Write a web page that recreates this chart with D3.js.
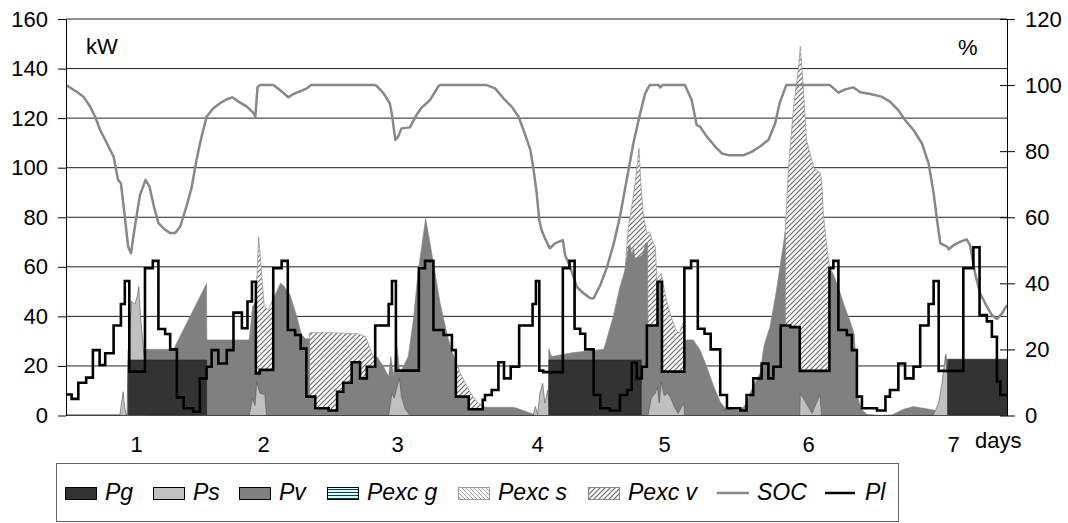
<!DOCTYPE html>
<html>
<head>
<meta charset="utf-8">
<script src="https://cdn.jsdelivr.net/npm/d3@7"></script>
<style>
  html, body { margin: 0; padding: 0; background: #fff; }
  svg { display: block; font-family: "Liberation Sans", Arial, Helvetica, sans-serif; }
</style>
</head>
<body>
<svg id="chart" width="1068" height="523"></svg>
<script>
// ---------------- DATA (time in hours, 0..168) ----------------
const dayLabels = ["1", "2", "3", "4", "5", "6", "7"];
const dayTicks = [12.5, 35.2, 59.1, 84.1, 106.8, 132.5, 158.4];
const kwTicks = [0, 20, 40, 60, 80, 100, 120, 140, 160];
const socTicks = [0, 20, 40, 60, 80, 100, 120];
const seriesNames = ["Pg", "Ps", "Pv", "Pexc g", "Pexc s", "Pexc v", "SOC", "Pl"];

const pg = [[0,0],[11.1,0],[11.1,22.4],[25.1,22.4],[25.1,0],[86.2,0],[86.2,22.4],[102.7,22.4],[102.7,0],
  [157.4,0],[157.4,22.7],[168,22.7]];

const ps = [[0,0],[9.6,0],[10.2,9.6],[10.5,3],[10.8,0],[10.9,0],[11.1,25],[11.7,46],[12.3,45],[12.7,48],[13.0,52],
  [13.3,40],[13.8,28],[14.1,20],[14.3,0],[32.7,0],[33.3,6.9],[33.75,4],[34.05,13.7],[34.6,9],[35.5,8.5],[35.8,0],
  [57.6,0],[58.2,9],[58.6,7],[59.5,15],[59.9,7.6],[60.5,2.9],[61.4,0],[83.4,0],[83.8,3.6],[84.2,0.5],[84.6,9],
  [85.1,13],[85.5,5],[86.0,10.3],[86.3,0],[103.9,0],[104.5,7],[105.2,9],[105.6,11.5],[105.9,5],[106.3,13.5],
  [106.8,8],[107.4,9],[108.0,7],[108.6,3.5],[109.3,0.8],[109.9,3.5],[110.3,5],[110.45,0],[131.0,0],[131.1,9],
  [133.2,0.9],[134.6,8.3],[134.9,0],[154.8,0],[155.8,5],[156.4,13],[157.0,24],[157.3,17],[157.5,20],[157.6,0],[168,0]];

const pv = [[0,0.4],[11.0,0.4],[11.1,26.7],[19.2,26.7],[25.1,53.3],[25.15,30.5],[32.7,30.5],[33.3,44],[33.9,46],
  [33.9,17],[34.6,17],[34.6,18.4],[37.0,18.4],[37.0,47],[38.3,53.5],[39.0,52],[40.0,48.6],[41.2,40],[42.0,33],
  [42.7,31],[43.45,31],[43.45,7.6],[44.5,7.6],[44.5,2.9],[46.9,2.9],[46.9,2],[48.4,2],[48.4,9.6],[49.5,9.6],
  [49.5,13.2],[51,13.2],[51,21.5],[52.5,21.5],[52.5,15],[53.7,15],[53.7,19.7],[55.2,19.7],[55.2,22.4],[55.5,23.8],
  [56.7,19.7],[57.6,15.7],[58.0,23.8],[58.5,15.7],[59.0,29.8],[59.6,17],[60.2,19.7],[61.1,23.8],[62.0,38.5],
  [62.9,58.7],[63.5,68.1],[64.2,79.6],[65.0,69.5],[65.9,57.4],[66.8,45.3],[68.0,33.2],[68.9,25.8],[69.6,22],
  [69.6,7.6],[71.9,7.6],[71.9,2.5],[74.4,2.5],[74.4,3.6],[75.1,3.3],[79.9,3.3],[80.5,2.9],[83.4,0.6],[86.1,0.3],
  [86.2,27],[86.7,23.8],[90.6,25.4],[96.0,26.7],[96.5,30.5],[97.7,40],[98.9,52],[99.8,58.7],[100.4,68],[100.7,68.8],
  [101.0,64.8],[101.3,67.5],[101.6,63.4],[102.2,64],[102.9,64.8],[103.5,69.5],[103.85,70],[103.9,36],[105.6,36],
  [105.6,54],[106.4,54],[106.4,17.7],[110.4,17.7],[110.45,30.5],[112.0,30.5],[113.2,26.4],[114.4,19.7],[115.6,12],
  [116.8,5.5],[117.7,2.9],[120.4,2],[121.5,4.9],[122.1,9],[123.9,17],[124.6,28],[125.7,36],[126.8,50],[127.6,62],
  [128.4,74],[128.4,36.3],[131,36.3],[131,18],[136.3,18],[136.3,60],[137.0,57],[138.0,51],[139.0,44],[140.0,38],
  [140.7,33],[141.1,20],[141.3,8],[142.0,2.5],[143.0,0.5],[145.5,0],[147.5,0.3],[149.5,2.5],[151.3,3.6],[153.1,2.9],
  [154.9,2.2],[155.8,1.5],[156.5,8],[157.1,25],[157.4,20],[157.5,0],[168,0]];

const pexcG = [[0,0],[168,0]];
const pexcS = [[0,0],[168,0]];

const pexcV = [[0,0],[33.9,0],[33.9,46],[34.4,72.2],[35.0,55],[35.4,44],[36.1,42.6],[37.0,47],[37.0,0],
  [43.45,0],[43.45,33.5],[48.6,33.3],[52.2,32.9],[53.5,31.8],[54.6,25.1],[55.2,22.4],[55.2,0],
  [69.6,0],[69.6,22],[70.4,17],[71.9,10.3],[73.3,5.6],[74.4,3.6],[74.4,0],
  [99.8,0],[99.8,58.7],[100.4,76],[101.0,84.3],[101.6,93.7],[102.3,107.8],[102.6,95],[103.1,80.2],[103.7,73.5],
  [104.2,74.2],[104.6,70.8],[105.2,68.1],[105.5,54.7],[105.6,55.5],[106.3,57.4],[106.6,53.3],[107.2,46.6],
  [108.0,40],[108.9,34.5],[109.5,33.2],[110.1,37.2],[110.4,38],[110.4,0],
  [128.4,0],[128.4,74],[129.0,100.4],[129.9,124.6],[130.8,140.8],[131.1,149],[131.7,130],[132.2,111.2],
  [133.5,100],[134.6,98],[134.9,95],[135.2,82],[135.5,75],[136.1,63],[136.3,60],[136.3,0],[168,0]];

const soc = [[0,100],[1.9,98],[3.1,96.5],[4.3,93.5],[5.2,90.4],[6.1,86.4],[7.3,82.4],[8.5,78.3],[9.3,71.3],[9.8,70.3],
  [10.5,60.2],[11.1,51.1],[11.6,49.1],[12.3,57.2],[13.2,66.7],[14.2,71.3],[14.9,69.3],[15.7,63.2],[16.5,58.2],
  [17.7,56.2],[18.6,55.2],[19.5,55.2],[20.4,57.2],[21.5,63.2],[22.4,68.8],[23.3,77.3],[24.2,84.4],[25.1,90.4],
  [26.3,93],[27.5,94.5],[28.7,95.7],[29.7,96.3],[30.8,95],[32.3,93.5],[33.5,91.5],[33.8,90.4],[34.2,99.4],[34.6,100],
  [37.0,100],[38.2,98.5],[39.7,96.3],[40.6,97.3],[42.1,98.3],[43.0,99],[43.7,100],[55.2,100],[55.5,99.7],[56.7,97.5],
  [57.8,94.5],[58.2,91],[58.8,83.4],[59.3,84.4],[59.9,86.9],[61.4,87.2],[62.6,91],[63.5,93.2],[65.0,95.5],[66.5,99.7],
  [66.8,100],[75.1,100],[76.6,99],[78.1,96],[79.6,93.4],[80.8,90.4],[81.9,85.4],[82.9,80.4],[83.4,75.3],[84.0,67.8],
  [84.5,59.1],[84.9,56.2],[85.5,53.6],[86.4,50.6],[87.3,52.1],[88.7,53.1],[89.1,48.6],[90.0,45],[91.2,38.9],[92.4,37],
  [93.6,35.5],[94.2,35.5],[95.4,39.5],[96.6,45],[97.8,52.1],[98.9,60.2],[100.1,71.3],[101.3,82.4],[102.5,91.4],
  [103.4,97.5],[104.2,100],[105.8,100],[106.1,99.3],[106.5,100],[110.5,100],[111.7,95.5],[112.6,87.9],[113.2,87.4],
  [114.4,84.4],[115.9,81.4],[117.1,79.3],[118.3,78.8],[121.0,78.8],[122.4,79.8],[123.9,81.4],[125.4,83.4],[126.6,88.4],
  [127.4,94.5],[128.6,100],[136.4,100],[137.9,97.7],[139.1,98.7],[140.6,99.3],[141.8,97.8],[143.6,97.3],[145.6,96.5],
  [147.1,95],[148.6,92.4],[149.8,89.4],[151.3,86.4],[152.8,82.4],[154.0,76.3],[154.9,67.3],[155.5,59.2],[156.1,52.1],
  [157.3,51.1],[157.6,50.3],[158.5,51.6],[159.7,52.6],[160.8,53.3],[161.4,51.6],[162.3,43],[163.2,37],[164.4,33],
  [165.3,30.4],[166.2,29.2],[167.1,30.9],[168,33.4]];

const pl = [[0,8.5],[1.0,6.7],[2.2,13.2],[3.6,15.3],[4.8,26.4],[6.0,20.4],[7.0,25.1],[8.5,36.3],[9.8,45],[10.5,54.3],
  [11.3,17.7],[14.1,59.4],[15.5,62.4],[16.5,34.9],[17.7,32.9],[18.6,26.7],[19.8,7.3],[21.0,2.9],[22.7,1.5],[23.9,15],
  [25.1,19.7],[26.0,26.4],[27.2,21],[28.7,26.4],[29.9,41.5],[31.4,35.2],[32.4,46],[33.2,54],[33.9,17],[34.6,18.4],
  [37.0,59.4],[38.5,62.4],[39.6,34.5],[40.9,32.5],[41.9,27],[42.9,7.6],[44.5,2.9],[46.9,2],[48.4,9.6],[49.5,13.2],
  [51.0,21.5],[52.5,15],[53.7,19.7],[55.2,36.3],[57.6,45],[58.2,54.3],[58.9,18.1],[63.0,59.4],[64.1,62.4],[65.6,34.5],
  [67.4,32.5],[68.9,26.4],[69.6,7.6],[71.9,2.5],[74.4,6.3],[74.8,8.3],[76.0,10.3],[77.2,21.5],[78.2,15],[79.4,19.7],
  [80.9,36.3],[83.3,45],[83.9,54.3],[84.5,18.1],[85.2,17.5],[88.7,59.4],[89.9,62.4],[90.8,35],[91.8,33],[92.7,26.7],
  [94.2,8.3],[95.4,2.9],[97.1,2],[98.9,8.3],[100.2,10.3],[101.0,21.3],[101.9,15],[102.8,19.7],[103.7,36.3],[105.6,54],
  [106.4,17.7],[110.4,59.4],[111.6,62.4],[112.8,35],[114.0,33],[115.1,26.7],[116.8,8.3],[118.0,2.9],[120.4,2],
  [121.5,8.3],[122.7,15],[124.2,21],[125.4,15],[126.3,19.7],[127.6,36.3],[129.3,35.6],[131.0,18],[136.3,59.4],
  [137.0,62.4],[137.9,34.5],[139.4,32.5],[140.3,26.4],[141.2,7.6],[142.1,2.9],[144.8,2],[146.3,7.6],[147.1,10.3],
  [148.6,21],[149.8,15],[151.3,19.7],[152.5,36.3],[154.0,45],[154.9,54.3],[155.8,18],[160.2,59.4],[162.0,67.9],
  [163.1,40.5],[164.4,38],[165.3,31.8],[166.2,13.7],[166.8,8.3],[168,8.3]];

// ---------------- CHART ----------------
const svg = d3.select("#chart");
const L = 66, R = 1007, T = 19, B = 415.5;
const x = d3.scaleLinear().domain([0, 168]).range([L, R]);
const yL = d3.scaleLinear().domain([0, 160]).range([B, T]);
const yR = d3.scaleLinear().domain([0, 120]).range([B, T]);
const FONT = "22px";

const defs = svg.append("defs");
// Pexc v: "////" hatch
const pV = defs.append("pattern").attr("id", "hatchV").attr("patternUnits", "userSpaceOnUse")
  .attr("width", 5).attr("height", 5);
pV.append("rect").attr("width", 5).attr("height", 5).attr("fill", "#fff");
pV.append("path").attr("d", "M-1,1 L1,-1 M0,5 L5,0 M4,6 L6,4").attr("stroke", "#6a6a6a").attr("stroke-width", 1.2);
// Pexc s: light "\\\\" hatch
const pS = defs.append("pattern").attr("id", "hatchS").attr("patternUnits", "userSpaceOnUse")
  .attr("width", 4).attr("height", 4);
pS.append("rect").attr("width", 4).attr("height", 4).attr("fill", "#fff");
pS.append("path").attr("d", "M-1,3 L1,5 M0,0 L4,4 M3,-1 L5,1").attr("stroke", "#a8a8a8").attr("stroke-width", 1);
// Pexc g: cyan with horizontal lines
const pG = defs.append("pattern").attr("id", "hatchG").attr("patternUnits", "userSpaceOnUse")
  .attr("width", 4).attr("height", 3);
pG.append("rect").attr("width", 4).attr("height", 3).attr("fill", "#ccffff");
pG.append("path").attr("d", "M0,0.5 L4,0.5").attr("stroke", "#000").attr("stroke-width", 0.8);

defs.append("clipPath").attr("id", "plotClip").append("rect")
  .attr("x", L).attr("y", T).attr("width", R - L).attr("height", B - T);

// grid lines
svg.append("g").selectAll("line").data(kwTicks).join("line")
  .attr("x1", L).attr("x2", R).attr("y1", d => yL(d)).attr("y2", d => yL(d))
  .attr("stroke", "#222").attr("stroke-width", 1);

const area = d3.area().x(d => x(d[0])).y0(yL(0)).y1(d => yL(d[1]));
const plot = svg.append("g").attr("clip-path", "url(#plotClip)");

plot.append("path").datum(pexcG).attr("d", area).attr("fill", "url(#hatchG)");
plot.append("path").datum(pexcS).attr("d", area).attr("fill", "url(#hatchS)");
plot.append("path").datum(pexcV).attr("d", area).attr("fill", "url(#hatchV)")
  .attr("stroke", "#9a9a9a").attr("stroke-width", 0.8);
plot.append("path").datum(pv).attr("d", area).attr("fill", "#808080")
  .attr("stroke", "#8a8a8a").attr("stroke-width", 0.6);
plot.append("path").datum(ps).attr("d", area).attr("fill", "#c0c0c0")
  .attr("stroke", "#555").attr("stroke-width", 0.6);
plot.append("path").datum(pg).attr("d", area).attr("fill", "#333333")
  .attr("stroke", "#222").attr("stroke-width", 0.6);

// SOC line (right axis)
plot.append("path").datum(soc)
  .attr("d", d3.line().x(d => x(d[0])).y(d => yR(d[1])))
  .attr("fill", "none").attr("stroke", "#888").attr("stroke-width", 2.5).attr("stroke-linejoin", "round");

// Pl load (step line)
plot.append("path").datum(pl)
  .attr("d", d3.line().curve(d3.curveStepAfter).x(d => x(d[0])).y(d => yL(d[1])))
  .attr("fill", "none").attr("stroke", "#000").attr("stroke-width", 2.6);

// left axis
const axL = svg.append("g").attr("transform", `translate(${L},0)`)
  .call(d3.axisLeft(yL).tickValues(kwTicks).tickSize(8).tickSizeOuter(0).tickPadding(10));
axL.select(".domain").attr("stroke", "#000");
axL.selectAll(".tick line").attr("stroke", "#000");
axL.selectAll("text").attr("font-size", FONT).attr("fill", "#000").attr("font-family", null);

// right axis
const axR = svg.append("g").attr("transform", `translate(${R},0)`)
  .call(d3.axisRight(yR).tickValues(socTicks).tickSize(8).tickSizeOuter(0).tickPadding(10));
axR.select(".domain").attr("stroke", "#000");
axR.selectAll(".tick line").attr("stroke", "#000").attr("x1", -7);
axR.selectAll("text").attr("font-size", FONT).attr("fill", "#000").attr("font-family", null);

// x axis labels
const axB = svg.append("g").attr("transform", `translate(0,${B})`)
  .call(d3.axisBottom(x).tickValues(dayTicks).tickFormat((d, i) => dayLabels[i]).tickSize(0).tickPadding(21));
axB.select(".domain").remove();
axB.selectAll("text").attr("font-size", FONT).attr("fill", "#000").attr("font-family", null);

svg.append("text").attr("x", 975).attr("y", 448).attr("font-size", FONT).text("days");
svg.append("text").attr("x", 86).attr("y", 54).attr("font-size", FONT).text("kW");
svg.append("text").attr("x", 958).attr("y", 55).attr("font-size", FONT).text("%");

// legend
svg.append("rect").attr("x", 56.5).attr("y", 463.5).attr("width", 842).attr("height", 58)
  .attr("fill", "#fff").attr("stroke", "#666").attr("stroke-width", 1);
const legendX = [65, 153, 239, 327, 458, 588, 717, 825];
const legendFill = ["#333333", "#c0c0c0", "#808080", "url(#hatchG)", "url(#hatchS)", "url(#hatchV)", null, null];
const legendStroke = ["#000", "#000", "#000", "#000", "#999", "#888", "#888", "#000"];
const lg = svg.append("g").selectAll("g").data(seriesNames).join("g")
  .attr("transform", (d, i) => `translate(${legendX[i]},0)`);
lg.each(function (d, i) {
  const g = d3.select(this);
  if (legendFill[i]) {
    g.append("rect").attr("x", 0.5).attr("y", 487.5).attr("width", 31).attr("height", 12)
      .attr("fill", legendFill[i]).attr("stroke", legendStroke[i]).attr("stroke-width", 1);
  } else {
    g.append("line").attr("x1", 0).attr("x2", i === 7 ? 30 : 32).attr("y1", 493).attr("y2", 493)
      .attr("stroke", legendStroke[i]).attr("stroke-width", 2.5);
  }
  g.append("text").attr("x", 40).attr("y", 500)
    .attr("font-size", "23px").attr("font-style", "italic").text(d);
});
</script>
</body>
</html>
